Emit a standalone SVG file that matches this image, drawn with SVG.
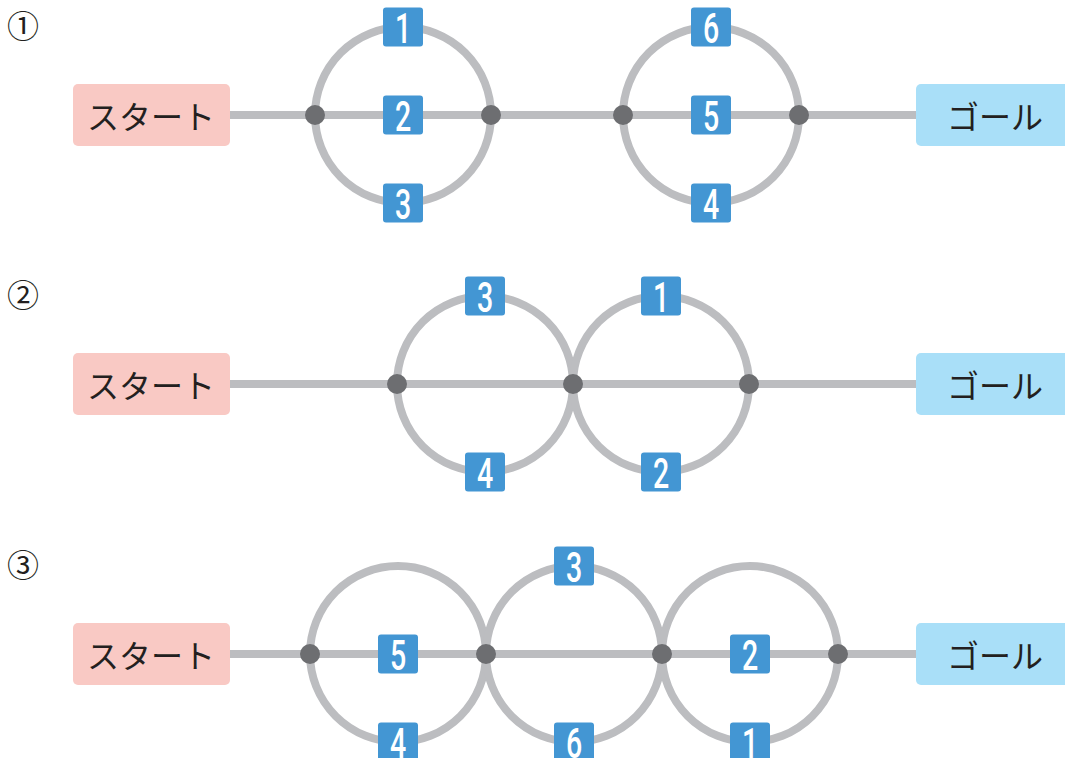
<svg xmlns="http://www.w3.org/2000/svg" width="1065" height="758" viewBox="0 0 1065 758">
<style>
.ln{stroke:#bcbdc0;stroke-width:8;fill:none}
.dot{fill:#6d6e71}
.start{fill:#f9c9c4}
.goal{fill:#a9dff8}
.box{font-family:"Noto Sans CJK JP","Noto Sans CJK SC",sans-serif;font-size:32px;fill:#231f20;text-anchor:middle;dominant-baseline:central}
.bd{fill:#4396d3}
.num{font-family:Roboto,"Liberation Sans",sans-serif;font-weight:500;font-size:42px;fill:#fff;text-anchor:middle}
.lbl{font-family:"Noto Sans CJK JP","Noto Sans CJK SC",sans-serif;font-size:32px;fill:#231f20;text-anchor:middle;dominant-baseline:central}
</style>
<defs>
<g id="b"><rect class="bd" x="-20" y="-19.5" width="40" height="39" rx="3"/></g>
</defs>
<rect width="1065" height="758" fill="#fff"/>
<g id="connectors">
<line class="ln" x1="225" y1="115" x2="920" y2="115"/>
<circle class="ln" cx="403" cy="115" r="88"/>
<circle class="ln" cx="711" cy="115" r="88"/>
<line class="ln" x1="225" y1="384" x2="920" y2="384"/>
<circle class="ln" cx="485" cy="384" r="88"/>
<circle class="ln" cx="661" cy="384" r="88"/>
<line class="ln" x1="225" y1="654" x2="920" y2="654"/>
<circle class="ln" cx="398" cy="654" r="88"/>
<circle class="ln" cx="574" cy="654" r="88"/>
<circle class="ln" cx="750" cy="654" r="88"/>
</g>
<g id="labels">
<text class="lbl" x="23" y="24">①</text>
<text class="lbl" x="23" y="293">②</text>
<text class="lbl" x="23" y="563">③</text>
</g>
<g id="start1"><rect class="start" x="73" y="84" width="157" height="62" rx="5"/><text class="box" x="151" y="115">スタート</text></g>
<g id="goal1"><rect class="goal" x="916" y="84" width="160" height="62" rx="5"/><text class="box" x="995" y="115">ゴール</text></g>
<g id="start2"><rect class="start" x="73" y="353" width="157" height="62" rx="5"/><text class="box" x="151" y="384">スタート</text></g>
<g id="goal2"><rect class="goal" x="916" y="353" width="160" height="62" rx="5"/><text class="box" x="995" y="384">ゴール</text></g>
<g id="start3"><rect class="start" x="73" y="623" width="157" height="62" rx="5"/><text class="box" x="151" y="654">スタート</text></g>
<g id="goal3"><rect class="goal" x="916" y="623" width="160" height="62" rx="5"/><text class="box" x="995" y="654">ゴール</text></g>
<g id="dots">
<circle class="dot" cx="315" cy="115" r="10"/><circle class="dot" cx="491" cy="115" r="10"/>
<circle class="dot" cx="623" cy="115" r="10"/><circle class="dot" cx="799" cy="115" r="10"/>
<circle class="dot" cx="397" cy="384" r="10"/><circle class="dot" cx="573" cy="384" r="10"/><circle class="dot" cx="749" cy="384" r="10"/>
<circle class="dot" cx="310" cy="654" r="10"/><circle class="dot" cx="486" cy="654" r="10"/><circle class="dot" cx="662" cy="654" r="10"/><circle class="dot" cx="838" cy="654" r="10"/>
</g>
<g id="badge-r1-1" transform="translate(403,27)"><use href="#b"/><text class="num" transform="scale(0.68,1)" y="16">1</text></g>
<g id="badge-r1-2" transform="translate(403,115)"><use href="#b"/><text class="num" transform="scale(0.68,1)" y="16">2</text></g>
<g id="badge-r1-3" transform="translate(403,203)"><use href="#b"/><text class="num" transform="scale(0.68,1)" y="16">3</text></g>
<g id="badge-r1-6" transform="translate(711,27)"><use href="#b"/><text class="num" transform="scale(0.68,1)" y="16">6</text></g>
<g id="badge-r1-5" transform="translate(711,115)"><use href="#b"/><text class="num" transform="scale(0.68,1)" y="16">5</text></g>
<g id="badge-r1-4" transform="translate(711,203)"><use href="#b"/><text class="num" transform="scale(0.68,1)" y="16">4</text></g>
<g id="badge-r2-3" transform="translate(485,296)"><use href="#b"/><text class="num" transform="scale(0.68,1)" y="16">3</text></g>
<g id="badge-r2-4" transform="translate(485,472)"><use href="#b"/><text class="num" transform="scale(0.68,1)" y="16">4</text></g>
<g id="badge-r2-1" transform="translate(661,296)"><use href="#b"/><text class="num" transform="scale(0.68,1)" y="16">1</text></g>
<g id="badge-r2-2" transform="translate(661,472)"><use href="#b"/><text class="num" transform="scale(0.68,1)" y="16">2</text></g>
<g id="badge-r3-5" transform="translate(398,654)"><use href="#b"/><text class="num" transform="scale(0.68,1)" y="16">5</text></g>
<g id="badge-r3-4" transform="translate(398,742)"><use href="#b"/><text class="num" transform="scale(0.68,1)" y="16">4</text></g>
<g id="badge-r3-3" transform="translate(574,566)"><use href="#b"/><text class="num" transform="scale(0.68,1)" y="16">3</text></g>
<g id="badge-r3-6" transform="translate(574,742)"><use href="#b"/><text class="num" transform="scale(0.68,1)" y="16">6</text></g>
<g id="badge-r3-2" transform="translate(750,654)"><use href="#b"/><text class="num" transform="scale(0.68,1)" y="16">2</text></g>
<g id="badge-r3-1" transform="translate(750,742)"><use href="#b"/><text class="num" transform="scale(0.68,1)" y="16">1</text></g>
</svg>
